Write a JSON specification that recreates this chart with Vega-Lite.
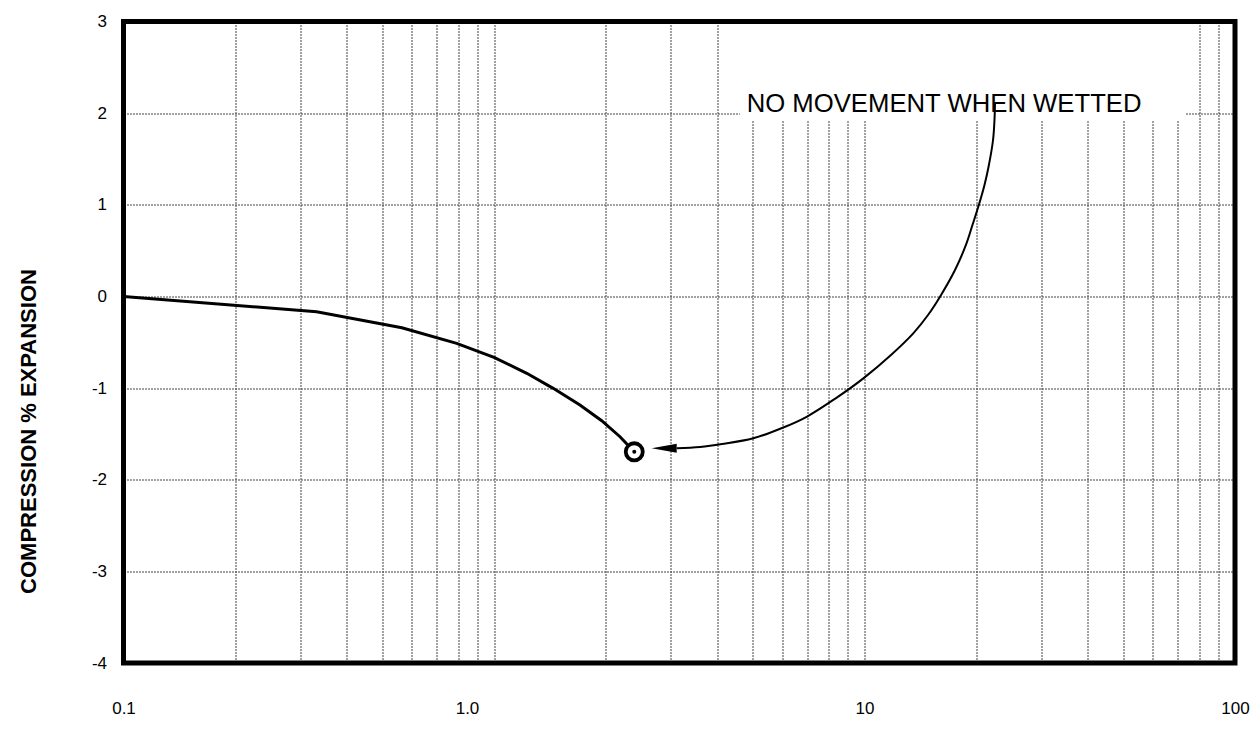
{
  "$schema": "https://vega.github.io/schema/vega-lite/v6.json",
  "autosize": {"type": "none"},
  "padding": {"left": 123.5, "top": 21.5, "right": 22, "bottom": 67},
  "width": 1111.5,
  "height": 641.5,
  "background": "white",
  "config": {
    "font": "Liberation Sans",
    "view": {"stroke": null}
  },
  "datasets": {
    "frame": [{"x": 0.1, "x2": 100, "y": 3, "y2": -4}],
    "box": [{"x": 4.61, "x2": 73.3, "y": 3, "y2": 1.914}],
    "note": [{"x": 16.4, "y": 2.012, "label": "NO MOVEMENT WHEN WETTED"}],
    "arrow": [
      {"x": 22.5, "y": 2.11},
      {"x": 22.43, "y": 1.925},
      {"x": 22.23, "y": 1.707},
      {"x": 21.62, "y": 1.415},
      {"x": 21.08, "y": 1.216},
      {"x": 20.35, "y": 0.997},
      {"x": 19.56, "y": 0.779},
      {"x": 18.85, "y": 0.579},
      {"x": 17.55, "y": 0.288},
      {"x": 15.99, "y": -0.003},
      {"x": 14.84, "y": -0.203},
      {"x": 13.54, "y": -0.403},
      {"x": 11.79, "y": -0.639},
      {"x": 9.93, "y": -0.894},
      {"x": 8.38, "y": -1.109},
      {"x": 6.98, "y": -1.313},
      {"x": 5.99, "y": -1.436},
      {"x": 5.01, "y": -1.548},
      {"x": 4.124, "y": -1.611},
      {"x": 3.598, "y": -1.643},
      {"x": 3.112, "y": -1.658}
    ],
    "head": [{"x": 2.88, "y": -1.658}],
    "curve": [
      {"x": 0.1, "y": 0},
      {"x": 0.332, "y": -0.167},
      {"x": 0.564, "y": -0.342},
      {"x": 0.793, "y": -0.512},
      {"x": 1.0, "y": -0.665},
      {"x": 1.226, "y": -0.839},
      {"x": 1.445, "y": -1.003},
      {"x": 1.706, "y": -1.185},
      {"x": 1.953, "y": -1.356},
      {"x": 2.188, "y": -1.531},
      {"x": 2.391, "y": -1.695}
    ],
    "marker": [{"x": 2.391, "y": -1.695}]
  },
  "encoding": {
    "x": {
      "field": "x",
      "type": "quantitative",
      "scale": {"type": "log", "domain": [0.1, 100], "nice": false},
      "axis": {
        "orient": "bottom",
        "title": null,
        "values": [0.1, 0.2, 0.3, 0.4, 0.5, 0.6, 0.7, 0.8, 0.9, 1, 2, 3, 4, 5, 6, 7, 8, 9, 10, 20, 30, 40, 50, 60, 70, 80, 90, 100],
        "labelExpr": "datum.value == 0.1 ? '0.1' : datum.value == 1 ? '1.0' : datum.value == 10 ? '10' : datum.value == 100 ? '100' : ''",
        "domain": false,
        "ticks": false,
        "tickSize": 0,
        "grid": true,
        "gridColor": "#444444",
        "gridDash": [2, 1],
        "gridWidth": 1,
        "labelFont": "Liberation Sans",
        "labelFontSize": 17,
        "labelColor": "#000000",
        "labelPadding": 37,
        "labelOverlap": false,
        "labelFlush": false,
        "labelBound": false,
        "labelAlign": "center",
        "labelOffset": {"condition": {"test": "datum.value == 1", "value": -27}, "value": 0}
      }
    },
    "y": {
      "field": "y",
      "type": "quantitative",
      "scale": {"domain": [-4, 3], "nice": false, "zero": false},
      "axis": {
        "orient": "left",
        "title": "COMPRESSION % EXPANSION",
        "titleFont": "Liberation Sans",
        "titleFontSize": 22,
        "titleFontWeight": "bold",
        "titleColor": "#000000",
        "titleAngle": -90,
        "titleAlign": "center",
        "titleBaseline": "alphabetic",
        "titleX": -88,
        "titleY": 409.5,
        "values": [-4, -3, -2, -1, 0, 1, 2, 3],
        "labelExpr": "datum.value < 0 ? '-' + abs(datum.value) : '' + datum.value",
        "domain": false,
        "ticks": false,
        "tickSize": 0,
        "grid": true,
        "gridColor": "#444444",
        "gridDash": [2, 1],
        "gridWidth": 1,
        "labelFont": "Liberation Sans",
        "labelFontSize": 17,
        "labelColor": "#000000",
        "labelPadding": 17,
        "labelOverlap": false,
        "labelFlush": false,
        "labelBound": false
      }
    }
  },
  "layer": [
    {
      "data": {"name": "box"},
      "mark": {"type": "rect", "fill": "white", "stroke": null},
      "encoding": {"x2": {"field": "x2"}, "y2": {"field": "y2"}}
    },
    {
      "data": {"name": "note"},
      "mark": {"type": "text", "font": "Liberation Sans", "fontSize": 25.7, "align": "center", "baseline": "alphabetic", "color": "#000000"},
      "encoding": {"text": {"field": "label"}}
    },
    {
      "data": {"name": "arrow"},
      "mark": {"type": "line", "interpolate": "catmull-rom", "color": "#000000", "strokeWidth": 2}
    },
    {
      "data": {"name": "head"},
      "mark": {"type": "point", "shape": "M -1 0 L 1 -0.36 L 1 0.36 Z", "size": 625, "filled": true, "color": "#000000", "opacity": 1, "strokeWidth": 0}
    },
    {
      "data": {"name": "curve"},
      "mark": {"type": "line", "color": "#000000", "strokeWidth": 3}
    },
    {
      "data": {"name": "marker"},
      "mark": {"type": "point", "shape": "circle", "size": 290, "fill": "white", "stroke": "#000000", "strokeWidth": 3.8, "opacity": 1, "fillOpacity": 1}
    },
    {
      "data": {"name": "marker"},
      "mark": {"type": "point", "shape": "circle", "size": 16, "filled": true, "color": "#000000", "opacity": 1}
    },
    {
      "data": {"name": "frame"},
      "mark": {"type": "rect", "fill": null, "fillOpacity": 0, "stroke": "#000000", "strokeWidth": 5, "clip": false},
      "encoding": {"x2": {"field": "x2"}, "y2": {"field": "y2"}}
    }
  ]
}
